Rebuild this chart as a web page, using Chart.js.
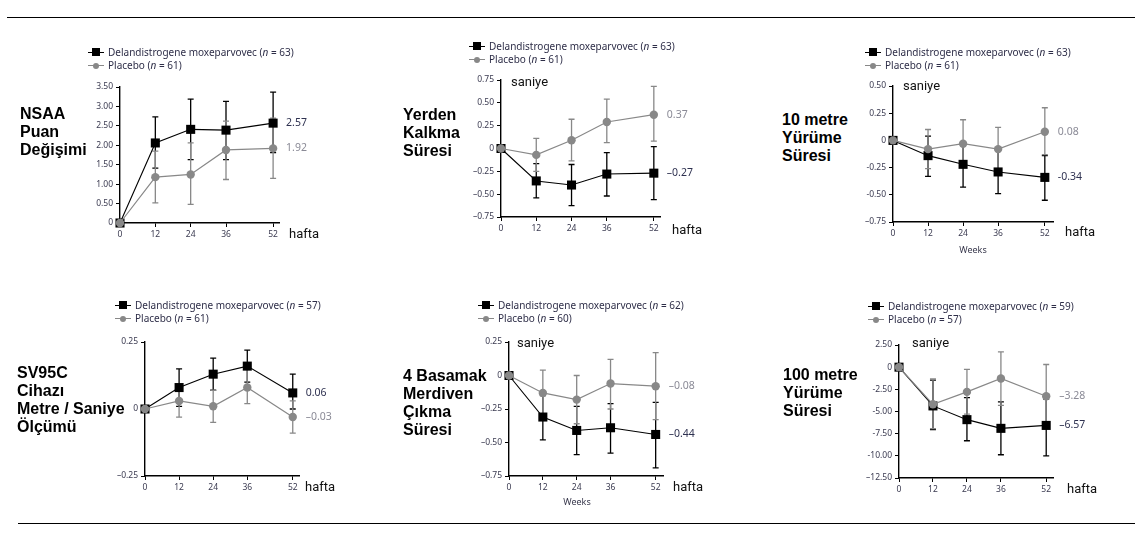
<!DOCTYPE html>
<html>
<head>
<meta charset="utf-8">
<script src="https://cdn.jsdelivr.net/npm/chart.js@4.4.1/dist/chart.umd.min.js"></script>
<style>
  html, body { margin: 0; padding: 0; background: #fff; }
  body { width: 1147px; height: 542px; position: relative; overflow: hidden; font-family: "Noto Sans", sans-serif; }
  .rule { position: absolute; height: 0; border-top: 1.5px solid #000; }
  .cv { position: absolute; }
  .title { position: absolute; font-family: "Liberation Sans", Arial, sans-serif; font-weight: bold; font-size: 16px; line-height: 18px; color: #000; white-space: nowrap; }
  .unit { position: absolute; font-family: Roboto, sans-serif; font-size: 13px; color: #111; white-space: nowrap; line-height: 14px; }
  .weeks { position: absolute; font-family: "Noto Sans", sans-serif; font-size: 9px; color: #3a3a4e; white-space: nowrap; transform: translateX(-50%); line-height: 10px; }
  .leg { position: absolute; font-size: 10px; color: #2e2e48; white-space: nowrap; line-height: 12px; }
  .leg .row { position: relative; height: 13px; }
  .leg .mk { position: absolute; left: 0; top: 6px; width: 16px; height: 0; }
  .leg .mk.drug { border-top: 1.4px solid #000; }
  .leg .mk.plac { border-top: 1px solid #888; }
  .leg .mk i { position: absolute; left: 4px; }
  .leg .mk.drug i { width: 8px; height: 8px; top: -4.7px; background: #000; }
  .leg .mk.plac i { width: 6px; height: 6px; top: -3.5px; left: 5px; background: #888; border-radius: 50%; }
  .leg .tx { position: absolute; left: 20px; top: 0; }
</style>
</head>
<body>
<div class="rule" style="left:7px; width:1128px; top:17px;"></div>
<div class="rule" style="left:18px; width:1117px; top:523px;"></div>
<div id="root"></div>
<script>
// ---- data ----
const weeks = [0, 12, 24, 36, 52];

// NSAA
const nsaaDrug   = [0, 2.06, 2.41, 2.39, 2.57];
const nsaaDrugHi = [0, 2.73, 3.19, 3.13, 3.37];
const nsaaDrugLo = [0, 1.41, 1.63, 1.63, 1.81];
const nsaaPlac   = [0, 1.18, 1.25, 1.88, 1.92];
const nsaaPlacHi = [0, 1.85, 2.06, 2.62, 2.70];
const nsaaPlacLo = [0, 0.52, 0.48, 1.12, 1.15];

// Yerden kalkma
const riseDrug   = [0, -0.355, -0.40, -0.28, -0.27];
const riseDrugHi = [0, -0.165, -0.175, -0.045, 0.02];
const riseDrugLo = [0, -0.54, -0.625, -0.52, -0.56];
const risePlac   = [0, -0.07, 0.09, 0.29, 0.37];
const risePlacHi = [0, 0.11, 0.32, 0.54, 0.68];
const risePlacLo = [0, -0.25, -0.135, 0.065, 0.08];

// 10 metre
const tenDrug   = [0, -0.14, -0.22, -0.29, -0.34];
const tenDrugHi = [0, 0.04, -0.02, -0.09, -0.14];
const tenDrugLo = [0, -0.33, -0.43, -0.49, -0.55];
const tenPlac   = [0, -0.08, -0.03, -0.08, 0.08];
const tenPlacHi = [0, 0.10, 0.19, 0.12, 0.30];
const tenPlacLo = [0, -0.26, -0.24, -0.27, -0.13];

// SV95C
const svDrug   = [0, 0.08, 0.13, 0.16, 0.06];
const svDrugHi = [0, 0.15, 0.19, 0.22, 0.13];
const svDrugLo = [0, 0.01, 0.07, 0.10, 0.00];
const svPlac   = [0, 0.03, 0.01, 0.08, -0.03];
const svPlacHi = [0, 0.09, 0.07, 0.15, 0.03];
const svPlacLo = [0, -0.03, -0.05, 0.02, -0.09];

// 4 basamak
const stairDrug   = [0, -0.31, -0.41, -0.39, -0.44];
const stairDrugHi = [0, -0.15, -0.23, -0.21, -0.20];
const stairDrugLo = [0, -0.48, -0.59, -0.58, -0.69];
const stairPlac   = [0, -0.13, -0.18, -0.06, -0.08];
const stairPlacHi = [0, 0.04, 0.00, 0.12, 0.17];
const stairPlacLo = [0, -0.30, -0.36, -0.25, -0.33];

// 100 metre
const hundDrug   = [0, -4.37, -5.92, -6.90, -6.57];
const hundDrugHi = [0, -1.47, -3.43, -3.92, -3.60];
const hundDrugLo = [0, -7.05, -8.30, -9.88, -10.00];
const hundPlac   = [0, -4.19, -2.79, -1.28, -3.28];
const hundPlacHi = [0, -1.32, -0.26, 1.73, 0.30];
const hundPlacLo = [0, -6.94, -5.30, -4.30, -6.80];

// tick values / labels
const nsaaTicks  = [0, 0.5, 1, 1.5, 2, 2.5, 3, 3.5];
const nsaaLabels = ['0', '0.50', '1.00', '1.50', '2.00', '2.50', '3.00', '3.50'];
const riseTicks  = [-0.75, -0.5, -0.25, 0, 0.25, 0.5, 0.75];
const riseLabels = ['\u20130.75', '\u20130.50', '\u20130.25', '0', '0.25', '0.50', '0.75'];
const tenTicks   = [-0.75, -0.5, -0.25, 0, 0.25, 0.5];
const tenLabels  = ['\u20130.75', '-0.50', '-0.25', '0', '0.25', '0.50'];
const svTicks    = [-0.25, 0, 0.25];
const svLabels   = ['\u20130.25', '0', '0.25'];
const stairTicks  = [-0.75, -0.5, -0.25, 0, 0.25];
const stairLabels = ['\u20130.75', '\u20130.50', '\u20130.25', '0', '0.25'];
const hundTicks  = [-12.5, -10, -7.5, -5, -2.5, 0, 2.5];
const hundLabels = ['\u201312.50', '-10.00', '-7.50', '-5.00', '-2.50', '0', '2.50'];

const DRUG = '#000000';
const PLAC = '#888888';

// ---- panel layout ----
const panels = [
  { id: 'nsaa', area: [120, 279, 87, 223], xMax: 54, ticks: nsaaTicks, labels: nsaaLabels,
    drug: nsaaDrug, drugHi: nsaaDrugHi, drugLo: nsaaDrugLo, plac: nsaaPlac, placHi: nsaaPlacHi, placLo: nsaaPlacLo,
    endDrug: '2.57', endPlac: '1.92', nDrug: 63, nPlac: 61,
    title: ['NSAA', 'Puan', 'Değişimi'], titlePos: [20, 105],
    leg: [88, 46], hafta: [289, 227], saniye: null, weeksLbl: null },
  { id: 'rise', area: [501, 660, 80, 217], xMax: 54.1, ticks: riseTicks, labels: riseLabels,
    drug: riseDrug, drugHi: riseDrugHi, drugLo: riseDrugLo, plac: risePlac, placHi: risePlacHi, placLo: risePlacLo,
    endDrug: '\u20130.27', endPlac: '0.37', nDrug: 63, nPlac: 61,
    title: ['Yerden', 'Kalkma', 'Süresi'], titlePos: [403, 106],
    leg: [469, 40], hafta: [672, 223], saniye: [511, 75], weeksLbl: null },
  { id: 'ten', area: [893, 1053, 86, 222], xMax: 54.8, ticks: tenTicks, labels: tenLabels,
    drug: tenDrug, drugHi: tenDrugHi, drugLo: tenDrugLo, plac: tenPlac, placHi: tenPlacHi, placLo: tenPlacLo,
    endDrug: '-0.34', endPlac: '0.08', nDrug: 63, nPlac: 61,
    title: ['10 metre', 'Yürüme', 'Süresi'], titlePos: [782, 111],
    leg: [865, 46], hafta: [1065, 225], saniye: [903, 79], weeksLbl: [973, 245] },
  { id: 'sv', area: [145, 299, 342, 476], xMax: 54.2, ticks: svTicks, labels: svLabels,
    drug: svDrug, drugHi: svDrugHi, drugLo: svDrugLo, plac: svPlac, placHi: svPlacHi, placLo: svPlacLo,
    endDrug: '0.06', endPlac: '\u20130.03', nDrug: 57, nPlac: 61,
    title: ['SV95C', 'Cihazı', 'Metre / Saniye', 'Ölçümü'], titlePos: [17, 364],
    leg: [115, 299], hafta: [305, 480], saniye: null, weeksLbl: null },
  { id: 'stair', area: [509, 663, 342, 476], xMax: 54.6, ticks: stairTicks, labels: stairLabels,
    drug: stairDrug, drugHi: stairDrugHi, drugLo: stairDrugLo, plac: stairPlac, placHi: stairPlacHi, placLo: stairPlacLo,
    endDrug: '\u20130.44', endPlac: '\u20130.08', nDrug: 62, nPlac: 60,
    title: ['4 Basamak', 'Merdiven', 'Çıkma', 'Süresi'], titlePos: [403, 367],
    leg: [478, 299], hafta: [673, 480], saniye: [517, 336], weeksLbl: [577, 497] },
  { id: 'hund', area: [899, 1053, 345, 478], xMax: 54.4, ticks: hundTicks, labels: hundLabels,
    drug: hundDrug, drugHi: hundDrugHi, drugLo: hundDrugLo, plac: hundPlac, placHi: hundPlacHi, placLo: hundPlacLo,
    endDrug: '\u20136.57', endPlac: '\u20133.28', nDrug: 59, nPlac: 57,
    title: ['100 metre', 'Yürüme', 'Süresi'], titlePos: [783, 366],
    leg: [868, 300], hafta: [1067, 482], saniye: [912, 336], weeksLbl: null }
];

// error bars under the markers
const errorBars = {
  id: 'errorBars',
  beforeDatasetsDraw(chart, args, opts) {
    const { ctx, scales: { x, y } } = chart;
    ctx.save();
    opts.sets.forEach(s => {
      ctx.strokeStyle = s.color;
      ctx.lineWidth = 1.3;
      weeks.forEach((w, i) => {
        if (s.hi[i] === s.lo[i]) return;
        const px = x.getPixelForValue(w);
        const yh = y.getPixelForValue(s.hi[i]);
        const yl = y.getPixelForValue(s.lo[i]);
        ctx.beginPath();
        ctx.moveTo(px, yh); ctx.lineTo(px, yl);
        ctx.moveTo(px - 3, yh); ctx.lineTo(px + 3, yh);
        ctx.moveTo(px - 3, yl); ctx.lineTo(px + 3, yl);
        ctx.stroke();
      });
    });
    ctx.restore();
  }
};

// value labels at week 52
const endLabels = {
  id: 'endLabels',
  afterDatasetsDraw(chart, args, opts) {
    const { ctx, scales: { x, y } } = chart;
    const last = weeks.length - 1;
    ctx.save();
    ctx.font = '10.5px "Noto Sans"';
    ctx.textBaseline = 'middle';
    ctx.textAlign = 'left';
    opts.items.forEach(it => {
      ctx.fillStyle = it.color;
      ctx.fillText(it.text, x.getPixelForValue(weeks[last]) + 13, y.getPixelForValue(it.values[last]));
    });
    ctx.restore();
  }
};

const root = document.getElementById('root');
const Y_W = 45, TOP_PAD = 12, RIGHT_PAD = 42, X_H = 22;

function addDiv(cls, html, left, top) {
  const d = document.createElement('div');
  d.className = cls;
  d.innerHTML = html;
  d.style.left = left + 'px';
  d.style.top = top + 'px';
  root.appendChild(d);
  return d;
}

panels.forEach(p => {
  const [L, R, T, B] = p.area;
  const wrap = document.createElement('div');
  wrap.className = 'cv';
  wrap.style.left = (L - Y_W) + 'px';
  wrap.style.top = (T - TOP_PAD) + 'px';
  wrap.style.width = (R - L + Y_W + RIGHT_PAD) + 'px';
  wrap.style.height = (B - T + TOP_PAD + X_H) + 'px';
  const cv = document.createElement('canvas');
  wrap.appendChild(cv);
  root.appendChild(wrap);

  const tickFont = { family: '"Noto Sans"', size: 8.5 };
  new Chart(cv.getContext('2d'), {
    type: 'line',
    data: {
      labels: weeks,
      datasets: [
        {
          label: 'Placebo', data: weeks.map((w, i) => ({ x: w, y: p.plac[i] })),
          borderColor: PLAC, backgroundColor: PLAC, borderWidth: 1.2,
          pointStyle: 'circle', pointRadius: 4.2, pointBorderWidth: 0, order: 0, clip: false
        },
        {
          label: 'Delandistrogene moxeparvovec', data: weeks.map((w, i) => ({ x: w, y: p.drug[i] })),
          borderColor: DRUG, backgroundColor: DRUG, borderWidth: 1.1,
          pointStyle: 'rect', pointRadius: 6.4, pointBorderWidth: 0, order: 1, clip: false
        }
      ]
    },
    options: {
      responsive: true,
      maintainAspectRatio: false,
      animation: false,
      events: [],
      layout: { padding: { top: TOP_PAD, right: RIGHT_PAD, left: 0, bottom: 0 } },
      plugins: {
        legend: { display: false },
        tooltip: { enabled: false },
        errorBars: { sets: [
          { color: DRUG, hi: p.drugHi, lo: p.drugLo },
          { color: PLAC, hi: p.placHi, lo: p.placLo }
        ] },
        endLabels: { items: [
          { color: '#2e3150', text: p.endDrug, values: p.drug },
          { color: '#8a8a96', text: p.endPlac, values: p.plac }
        ] }
      },
      scales: {
        x: {
          type: 'linear', min: 0, max: p.xMax,
          afterBuildTicks: s => { s.ticks = weeks.map(v => ({ value: v })); },
          afterFit: s => { s.height = X_H; },
          border: { display: true, color: '#000', width: 1.4 },
          grid: { display: true, drawOnChartArea: false, drawTicks: true, tickLength: 4, color: '#000', lineWidth: 1 },
          ticks: { font: tickFont, color: '#3a3a50', padding: 2, maxRotation: 0, autoSkip: false,
                   callback: v => String(v) }
        },
        y: {
          type: 'linear', min: p.ticks[0], max: p.ticks[p.ticks.length - 1],
          afterBuildTicks: s => { s.ticks = p.ticks.map(v => ({ value: v })); },
          afterFit: s => { s.width = Y_W; },
          border: { display: true, color: '#000', width: 1.4 },
          grid: { display: true, drawOnChartArea: false, drawTicks: true, tickLength: 4, color: '#000', lineWidth: 1 },
          ticks: { font: tickFont, color: '#3a3a50', padding: 3, autoSkip: false,
                   callback: (v, i) => p.labels[i] }
        }
      }
    },
    plugins: [errorBars, endLabels]
  });

  // side title
  addDiv('title', p.title.join('<br>'), p.titlePos[0], p.titlePos[1]);
  // units
  addDiv('unit', 'hafta', p.hafta[0], p.hafta[1]);
  if (p.saniye) addDiv('unit', 'saniye', p.saniye[0], p.saniye[1]);
  if (p.weeksLbl) addDiv('weeks', 'Weeks', p.weeksLbl[0], p.weeksLbl[1]);
  // legend
  addDiv('leg',
    '<div class="row"><span class="mk drug"><i></i></span><span class="tx">Delandistrogene moxeparvovec (<i>n</i> = ' + p.nDrug + ')</span></div>' +
    '<div class="row"><span class="mk plac"><i></i></span><span class="tx">Placebo (<i>n</i> = ' + p.nPlac + ')</span></div>',
    p.leg[0], p.leg[1]);
});
</script>
</body>
</html>
